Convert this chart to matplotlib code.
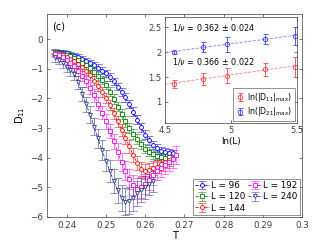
import matplotlib
matplotlib.use("Agg")
import matplotlib.pyplot as plt
from matplotlib.colors import to_rgba
import numpy as np

# main panel: D11 vs T for each system size
T_96 = [0.237, 0.238, 0.239, 0.240, 0.241, 0.242, 0.243, 0.244, 0.245, 0.246,
        0.247, 0.248, 0.249, 0.250, 0.251, 0.252, 0.253, 0.254, 0.255, 0.256,
        0.257, 0.258, 0.259, 0.260, 0.261, 0.262, 0.263, 0.264, 0.265, 0.266, 0.267]
D_96 = [-0.42, -0.44, -0.46, -0.48, -0.52, -0.56, -0.61, -0.66, -0.73, -0.80,
        -0.88, -0.97, -1.06, -1.16, -1.29, -1.43, -1.60, -1.78, -1.97, -2.20,
        -2.45, -2.72, -2.98, -3.22, -3.42, -3.57, -3.68, -3.76, -3.81, -3.84, -3.85]
E_96 = [0.08, 0.08, 0.08, 0.09, 0.09, 0.09, 0.10, 0.10, 0.10, 0.11,
        0.11, 0.12, 0.12, 0.12, 0.13, 0.13, 0.13, 0.14, 0.14, 0.14,
        0.15, 0.15, 0.15, 0.15, 0.14, 0.14, 0.13, 0.13, 0.12, 0.12, 0.12]

T_120 = [0.237, 0.238, 0.239, 0.240, 0.241, 0.242, 0.243, 0.244, 0.245, 0.246,
         0.247, 0.248, 0.249, 0.250, 0.251, 0.252, 0.253, 0.254, 0.255, 0.256,
         0.257, 0.258, 0.259, 0.260, 0.261, 0.262, 0.263, 0.264, 0.265, 0.266]
D_120 = [-0.45, -0.48, -0.50, -0.54, -0.58, -0.64, -0.72, -0.80, -0.88, -0.98,
         -1.10, -1.24, -1.38, -1.55, -1.78, -2.02, -2.28, -2.54, -2.78, -3.00,
         -3.20, -3.38, -3.55, -3.70, -3.80, -3.88, -3.94, -3.98, -4.00, -3.97]
E_120 = [0.09, 0.09, 0.10, 0.10, 0.10, 0.11, 0.11, 0.12, 0.12, 0.13,
         0.13, 0.14, 0.14, 0.15, 0.15, 0.16, 0.16, 0.17, 0.17, 0.17,
         0.17, 0.17, 0.16, 0.16, 0.15, 0.15, 0.15, 0.15, 0.15, 0.15]

T_144 = [0.237, 0.238, 0.239, 0.240, 0.241, 0.242, 0.243, 0.244, 0.245, 0.246,
         0.247, 0.248, 0.249, 0.250, 0.251, 0.252, 0.253, 0.254, 0.255, 0.256,
         0.257, 0.258, 0.259, 0.260, 0.261, 0.262, 0.263, 0.264, 0.265, 0.266]
D_144 = [-0.48, -0.50, -0.54, -0.60, -0.66, -0.74, -0.84, -0.95, -1.06, -1.22,
         -1.40, -1.58, -1.78, -1.98, -2.22, -2.50, -2.78, -3.06, -3.34, -3.62,
         -3.92, -4.18, -4.38, -4.46, -4.42, -4.36, -4.30, -4.22, -4.15, -4.08]
E_144 = [0.10, 0.10, 0.11, 0.11, 0.12, 0.12, 0.13, 0.13, 0.14, 0.15,
         0.15, 0.16, 0.17, 0.17, 0.18, 0.19, 0.19, 0.20, 0.21, 0.22,
         0.23, 0.24, 0.24, 0.25, 0.25, 0.24, 0.23, 0.22, 0.21, 0.20]

T_192 = [0.237, 0.238, 0.239, 0.240, 0.241, 0.242, 0.243, 0.244, 0.245, 0.246,
         0.247, 0.248, 0.249, 0.250, 0.251, 0.252, 0.253, 0.254, 0.255, 0.256,
         0.257, 0.258, 0.259, 0.260, 0.261, 0.262, 0.263, 0.264, 0.265, 0.266,
         0.267, 0.268]
D_192 = [-0.50, -0.54, -0.62, -0.70, -0.80, -0.92, -1.08, -1.25, -1.42, -1.65,
         -1.90, -2.18, -2.48, -2.78, -3.10, -3.45, -3.80, -4.15, -4.45, -4.72,
         -4.92, -5.05, -5.00, -4.90, -4.75, -4.60, -4.45, -4.35, -4.25, -4.15,
         -4.05, -3.90]
E_192 = [0.12, 0.12, 0.13, 0.14, 0.15, 0.16, 0.17, 0.18, 0.19, 0.20,
         0.21, 0.22, 0.23, 0.24, 0.25, 0.26, 0.28, 0.30, 0.32, 0.33,
         0.34, 0.35, 0.35, 0.34, 0.33, 0.32, 0.31, 0.30, 0.30, 0.30,
         0.30, 0.30]

T_240 = [0.237, 0.238, 0.239, 0.240, 0.241, 0.242, 0.243, 0.244, 0.245, 0.246,
         0.247, 0.248, 0.249, 0.250, 0.251, 0.252, 0.253, 0.254, 0.255, 0.256,
         0.257, 0.258, 0.259, 0.260, 0.261, 0.262]
D_240 = [-0.62, -0.70, -0.82, -0.95, -1.05, -1.18, -1.45, -1.85, -2.20, -2.55,
         -2.95, -3.35, -3.75, -4.10, -4.45, -4.80, -5.10, -5.35, -5.48, -5.45,
         -5.35, -5.20, -5.10, -5.00, -4.90, -4.80]
E_240 = [0.14, 0.15, 0.16, 0.17, 0.18, 0.20, 0.22, 0.24, 0.26, 0.28,
         0.30, 0.32, 0.34, 0.36, 0.38, 0.40, 0.42, 0.44, 0.45, 0.45,
         0.44, 0.42, 0.40, 0.38, 0.36, 0.35]

sizes = ["96", "120", "144", "192", "240"]
colors = ["#0000ff", "#008000", "#ff0000", "#ff00ff", "#24388f"]
markers = ["o", "s", "o", "s", "v"]

# inset: log of max |D| vs ln(L)
lnL = [4.564, 4.787, 4.970, 5.257, 5.481]
ln_D11 = [1.37, 1.47, 1.53, 1.66, 1.71]
err_D11 = [0.08, 0.12, 0.15, 0.13, 0.20]
ln_D21 = [2.00, 2.10, 2.16, 2.27, 2.32]
err_D21 = [0.03, 0.10, 0.15, 0.10, 0.18]

fig = plt.figure(figsize=(3.15, 2.44), dpi=100)
ax = fig.add_axes([0.149, 0.111, 0.810, 0.832])

series = [(T_96, D_96, E_96), (T_120, D_120, E_120), (T_144, D_144, E_144),
          (T_192, D_192, E_192), (T_240, D_240, E_240)]
for (t, d, e), L, c, m in zip(series, sizes, colors, markers):
    ax.errorbar(t, d, yerr=e, color=c, ecolor=to_rgba(c, 0.6), elinewidth=0.6,
                capsize=3, capthick=0.6, ls="--", lw=0.6, marker=m, ms=2.8,
                mfc="white", mec=c, mew=0.6, label=f"L = {L}")

ax.set_xlim(0.235, 0.30)
ax.set_ylim(-6, 0.85)
ax.set_xticks([0.24, 0.25, 0.26, 0.27, 0.28, 0.29, 0.30])
ax.set_xticklabels(["0.24", "0.25", "0.26", "0.27", "0.28", "0.29", "0.3"])
ax.set_yticks([-6, -5, -4, -3, -2, -1, 0])
ax.tick_params(direction="in", length=2.5, width=0.5, labelsize=6.3,
               top=True, right=True, colors="#404040", pad=3)
for s in ax.spines.values():
    s.set_linewidth(0.5)
    s.set_color("#404040")
ax.set_xlabel("T", fontsize=7, labelpad=1)
ax.set_ylabel(r"D$_{11}$", fontsize=7, labelpad=2)
ax.text(0.02, 0.965, "(c)", transform=ax.transAxes, fontsize=7, va="top")

leg = ax.legend(loc="lower right", ncol=2, fontsize=6.3, frameon=True,
                fancybox=False, edgecolor="#404040", handlelength=1.6,
                handletextpad=0.2, columnspacing=0.3, labelspacing=0.25,
                borderpad=0.25, borderaxespad=0.25)
leg.get_frame().set_linewidth(0.5)

# inset
ax2 = fig.add_axes([0.524, 0.496, 0.419, 0.434])
ax2.errorbar(lnL, ln_D11, yerr=err_D11, ls="none", marker="o", ms=3.2,
             mfc="none", mec="#ff4040", mew=0.6, ecolor="#ff4040",
             elinewidth=0.6, capsize=1.8, capthick=0.6,
             label=r"ln(|D$_{11}$|$_{max}$)")
ax2.errorbar(lnL, ln_D21, yerr=err_D21, ls="none", marker="o", ms=3.2,
             mfc="none", mec="#4040ff", mew=0.6, ecolor="#4040ff",
             elinewidth=0.6, capsize=1.8, capthick=0.6,
             label=r"ln(|D$_{21}$|$_{max}$)")
xf = np.array([4.5, 5.5])
k1, b1 = np.polyfit(lnL, ln_D11, 1)
k2, b2 = np.polyfit(lnL, ln_D21, 1)
ax2.plot(xf, k1 * xf + b1, ls="--", lw=0.6, color="#ff8080")
ax2.plot(xf, k2 * xf + b2, ls="--", lw=0.6, color="#8080ff")
ax2.text(0.05, 0.9, r"1/$\nu$ = 0.362 $\pm$ 0.024", transform=ax2.transAxes,
         fontsize=5.8, va="center")
ax2.text(0.05, 0.585, r"1/$\nu$ = 0.366 $\pm$ 0.022", transform=ax2.transAxes,
         fontsize=5.8, va="center")
ax2.set_xlim(4.5, 5.5)
ax2.set_ylim(0.58, 2.7)
ax2.set_xticks([4.5, 5, 5.5])
ax2.set_xticklabels(["4.5", "5", "5.5"])
ax2.set_yticks([1, 1.5, 2, 2.5])
ax2.set_yticklabels(["1", "1.5", "2", "2.5"])
ax2.tick_params(direction="in", length=2.2, width=0.5, labelsize=6,
                top=True, right=True, colors="#404040", pad=2.5)
for s in ax2.spines.values():
    s.set_linewidth(0.5)
    s.set_color("#404040")
ax2.set_xlabel("ln(L)", fontsize=6.3, labelpad=1)
leg2 = ax2.legend(loc="lower right", fontsize=5.6, frameon=True, fancybox=False,
                  edgecolor="#404040", handlelength=1.2, handletextpad=0.4,
                  labelspacing=0.2, borderpad=0.3, borderaxespad=0.3)
leg2.get_frame().set_linewidth(0.5)

fig.savefig("out.png", dpi=100)
